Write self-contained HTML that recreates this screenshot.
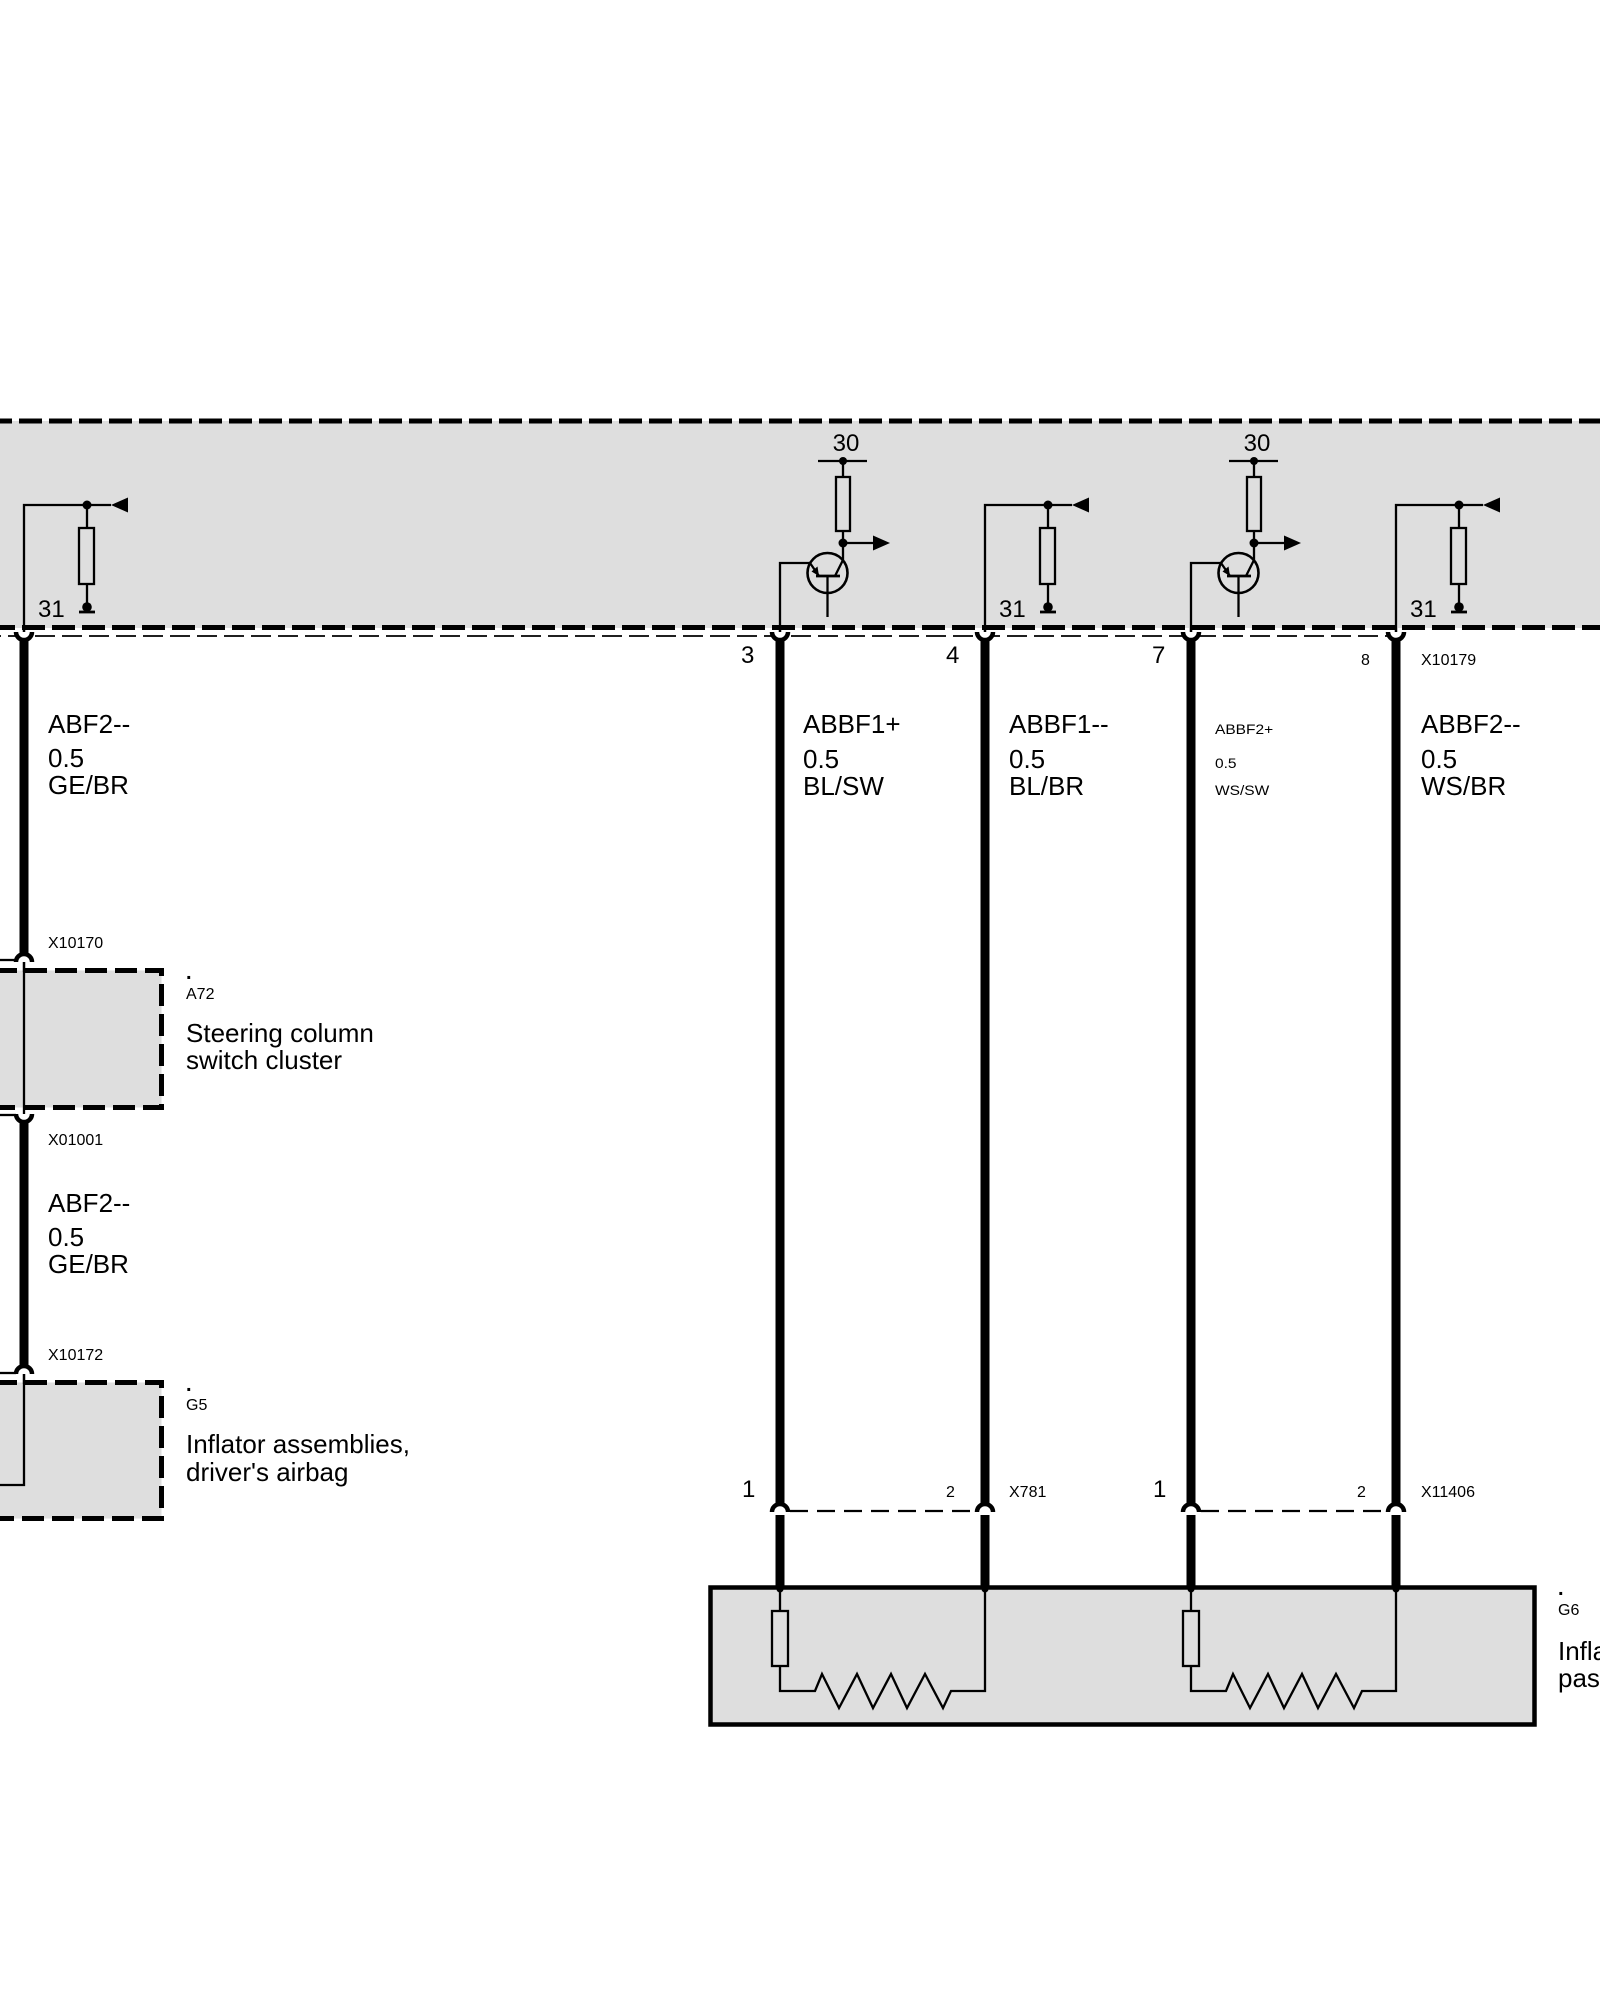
<!DOCTYPE html>
<html><head><meta charset="utf-8"><style>
html,body{margin:0;padding:0;background:#fff;}
svg{display:block;}
text{font-family:"Liberation Sans",Arial,sans-serif;fill:#000;}
.L{font-size:26px;}
.M{font-size:24px;}
.S{font-size:16px;}
.D{font-size:20px;font-weight:bold;}
</style></head><body>
<svg width="1600" height="2000" viewBox="0 0 1600 2000" xmlns="http://www.w3.org/2000/svg">
<rect width="1600" height="2000" fill="#fff"/>

<!-- Top gray control unit -->
<rect x="0" y="421" width="1600" height="207" fill="#dedede"/>
<line x1="0" y1="421" x2="1600" y2="421" stroke="#000" stroke-width="5" stroke-dasharray="23 7" stroke-dashoffset="11"/>
<line x1="0" y1="627.5" x2="1600" y2="627.5" stroke="#000" stroke-width="5" stroke-dasharray="23 7" stroke-dashoffset="8"/>
<line x1="0" y1="636" x2="1405" y2="636" stroke="#000" stroke-width="1.8" stroke-dasharray="20 7" stroke-dashoffset="-8"/>

<!-- A72 box -->
<rect x="0" y="970.5" width="161.5" height="137" fill="#dedede"/>
<path d="M-10 970.5 H161.5 V1107.5 H-10" fill="none" stroke="#000" stroke-width="5" stroke-dasharray="22 8" stroke-dashoffset="-5"/>
<!-- G5 box -->
<rect x="0" y="1382.5" width="161.5" height="136" fill="#dedede"/>
<path d="M-10 1382.5 H161.5 V1518.5 H-10" fill="none" stroke="#000" stroke-width="5" stroke-dasharray="22 8" stroke-dashoffset="-5"/>

<!-- G6 box -->
<rect x="710.5" y="1587.5" width="824" height="137" fill="#dedede" stroke="#000" stroke-width="4.5"/>

<g stroke="#000" fill="none" stroke-width="2.3">
  <!-- pull-down blocks: wires 0 (24), 4 (985), 8 (1396) -->
  <g>
    <polyline points="24,632 24,505 111,505"/>
    <line x1="87" y1="505" x2="87" y2="528"/>
    <rect x="79" y="528" width="15" height="56"/>
    <line x1="87" y1="584" x2="87" y2="607"/>
    <line x1="79" y1="612" x2="95" y2="612" stroke-width="2.8"/>
  </g>
  <g transform="translate(961 0)">
    <polyline points="24,632 24,505 111,505"/>
    <line x1="87" y1="505" x2="87" y2="528"/>
    <rect x="79" y="528" width="15" height="56"/>
    <line x1="87" y1="584" x2="87" y2="607"/>
    <line x1="79" y1="612" x2="95" y2="612" stroke-width="2.8"/>
  </g>
  <g transform="translate(1372 0)">
    <polyline points="24,632 24,505 111,505"/>
    <line x1="87" y1="505" x2="87" y2="528"/>
    <rect x="79" y="528" width="15" height="56"/>
    <line x1="87" y1="584" x2="87" y2="607"/>
    <line x1="79" y1="612" x2="95" y2="612" stroke-width="2.8"/>
  </g>

  <!-- transistor blocks: wires 3 (780), 7 (1191) -->
  <g>
    <line x1="818" y1="461" x2="867" y2="461"/>
    <line x1="843" y1="461" x2="843" y2="477"/>
    <rect x="836" y="477" width="14" height="54"/>
    <line x1="843" y1="531" x2="843" y2="543"/>
    <line x1="843" y1="543" x2="875" y2="543"/>
    <polyline points="843,543 843,560 835,576"/>
    <circle cx="827.5" cy="573" r="20" stroke-width="2.6"/>
    <line x1="816" y1="576" x2="840" y2="576" stroke-width="2.8"/>
    <line x1="827.5" y1="576" x2="827.5" y2="617"/>
    <polyline points="819,576 810,563 780,563 780,632"/>
  </g>
  <g transform="translate(411 0)">
    <line x1="818" y1="461" x2="867" y2="461"/>
    <line x1="843" y1="461" x2="843" y2="477"/>
    <rect x="836" y="477" width="14" height="54"/>
    <line x1="843" y1="531" x2="843" y2="543"/>
    <line x1="843" y1="543" x2="875" y2="543"/>
    <polyline points="843,543 843,560 835,576"/>
    <circle cx="827.5" cy="573" r="20" stroke-width="2.6"/>
    <line x1="816" y1="576" x2="840" y2="576" stroke-width="2.8"/>
    <line x1="827.5" y1="576" x2="827.5" y2="617"/>
    <polyline points="819,576 810,563 780,563 780,632"/>
  </g>

  <!-- left wire thin segments -->
  <line x1="24" y1="962" x2="24" y2="1114"/>
  <line x1="0" y1="960" x2="16" y2="960"/>
  <line x1="0" y1="1115" x2="16" y2="1115"/>
  <polyline points="24,1373 24,1485 0,1485"/>
  <line x1="0" y1="1373" x2="16" y2="1373"/>

  <!-- G6 internals -->
  <g>
    <line x1="780" y1="1590" x2="780" y2="1611"/>
    <rect x="772" y="1611" width="16" height="55"/>
    <polyline points="780,1666 780,1691 815,1691 822,1674 839,1708 857,1674 873,1708 891,1674 907,1708 925,1674 943,1708 951,1691 985,1691 985,1590"/>
  </g>
  <g transform="translate(411 0)">
    <line x1="780" y1="1590" x2="780" y2="1611"/>
    <rect x="772" y="1611" width="16" height="55"/>
    <polyline points="780,1666 780,1691 815,1691 822,1674 839,1708 857,1674 873,1708 891,1674 907,1708 925,1674 943,1708 951,1691 985,1691 985,1590"/>
  </g>

  <!-- bottom dashed connector lines -->
  <line x1="790" y1="1511" x2="975" y2="1511" stroke-dasharray="18 9"/>
  <line x1="1201" y1="1511" x2="1386" y2="1511" stroke-dasharray="18 9"/>
</g>

<!-- filled dots and arrows -->
<g fill="#000">
  <circle cx="87" cy="505" r="4.5"/><circle cx="87" cy="607" r="4.8"/>
  <polygon points="111,505 128,497.5 128,512.5"/>
  <circle cx="1048" cy="505" r="4.5"/><circle cx="1048" cy="607" r="4.8"/>
  <polygon points="1072,505 1089,497.5 1089,512.5"/>
  <circle cx="1459" cy="505" r="4.5"/><circle cx="1459" cy="607" r="4.8"/>
  <polygon points="1483,505 1500,497.5 1500,512.5"/>

  <circle cx="843" cy="461" r="4"/><circle cx="843" cy="543" r="4.5"/>
  <polygon points="873,535.5 890,543 873,550.5"/>
  <polygon points="819,576 811.5,571.5 817.5,566.5"/>
  <circle cx="1254" cy="461" r="4"/><circle cx="1254" cy="543" r="4.5"/>
  <polygon points="1284,535.5 1301,543 1284,550.5"/>
  <polygon points="1230,576 1222.5,571.5 1228.5,566.5"/>

  <circle cx="780" cy="1589" r="3.5"/><circle cx="985" cy="1589" r="3.5"/>
  <circle cx="1191" cy="1589" r="3.5"/><circle cx="1396" cy="1589" r="3.5"/>
</g>

<!-- thick wires -->
<g stroke="#000" stroke-width="9">
  <line x1="24" y1="640" x2="24" y2="956"/>
  <line x1="24" y1="1121" x2="24" y2="1367"/>
  <line x1="780" y1="640" x2="780" y2="1505"/>
  <line x1="780" y1="1515" x2="780" y2="1589"/>
  <line x1="985" y1="640" x2="985" y2="1505"/>
  <line x1="985" y1="1515" x2="985" y2="1589"/>
  <line x1="1191" y1="640" x2="1191" y2="1505"/>
  <line x1="1191" y1="1515" x2="1191" y2="1589"/>
  <line x1="1396" y1="640" x2="1396" y2="1505"/>
  <line x1="1396" y1="1515" x2="1396" y2="1589"/>
</g>

<!-- connector cups -->
<g stroke="#000" stroke-width="4.5" fill="#fff">
  <path d="M16 632 A8 8 0 0 0 32 632"/>
  <path d="M772 632 A8 8 0 0 0 788 632"/>
  <path d="M977 632 A8 8 0 0 0 993 632"/>
  <path d="M1183 632 A8 8 0 0 0 1199 632"/>
  <path d="M1388 632 A8 8 0 0 0 1404 632"/>
  <path d="M16 962 A8 8 0 0 1 32 962"/>
  <path d="M16 1114 A8 8 0 0 0 32 1114"/>
  <path d="M16 1374 A8 8 0 0 1 32 1374"/>
  <path d="M772 1512 A8 8 0 0 1 788 1512"/>
  <path d="M977 1512 A8 8 0 0 1 993 1512"/>
  <path d="M1183 1512 A8 8 0 0 1 1199 1512"/>
  <path d="M1388 1512 A8 8 0 0 1 1404 1512"/>
</g>
<g stroke="#000" stroke-width="2.3">
  <line x1="24" y1="628" x2="24" y2="632"/>
  <line x1="780" y1="628" x2="780" y2="632"/>
  <line x1="985" y1="628" x2="985" y2="632"/>
  <line x1="1191" y1="628" x2="1191" y2="632"/>
  <line x1="1396" y1="628" x2="1396" y2="632"/>
  <line x1="24" y1="962" x2="24" y2="972"/>
  <line x1="24" y1="1374" x2="24" y2="1384"/>
</g>

<!-- labels in top box -->
<text class="M" x="38" y="617">31</text>
<text class="M" x="999" y="617">31</text>
<text class="M" x="1410" y="617">31</text>
<text class="M" x="846" y="451" text-anchor="middle">30</text>
<text class="M" x="1257" y="451" text-anchor="middle">30</text>

<!-- pin numbers -->
<text class="M" x="741" y="663">3</text>
<text class="M" x="946" y="663">4</text>
<text class="M" x="1152" y="663">7</text>
<text class="S" x="1361" y="665">8</text>
<text class="S" x="1421" y="665">X10179</text>

<!-- wire labels -->
<text class="L" x="48" y="733">ABF2--</text>
<text class="L" x="48" y="767">0.5</text>
<text class="L" x="48" y="794">GE/BR</text>
<text class="S" x="48" y="948">X10170</text>
<text class="S" x="48" y="1145">X01001</text>
<text class="L" x="48" y="1212">ABF2--</text>
<text class="L" x="48" y="1246">0.5</text>
<text class="L" x="48" y="1273">GE/BR</text>
<text class="S" x="48" y="1360">X10172</text>

<text class="L" x="803" y="733">ABBF1+</text>
<text class="L" x="803" y="768">0.5</text>
<text class="L" x="803" y="795">BL/SW</text>
<text class="L" x="1009" y="733">ABBF1--</text>
<text class="L" x="1009" y="768">0.5</text>
<text class="L" x="1009" y="795">BL/BR</text>
<text transform="translate(1215 734) scale(1.15 1)" style="font-size:13.5px">ABBF2+</text>
<text transform="translate(1215 768) scale(1.15 1)" style="font-size:13.5px">0.5</text>
<text transform="translate(1215 795) scale(1.15 1)" style="font-size:13.5px">WS/SW</text>
<text class="L" x="1421" y="733">ABBF2--</text>
<text class="L" x="1421" y="768">0.5</text>
<text class="L" x="1421" y="795">WS/BR</text>

<!-- component labels -->
<text class="D" x="186" y="979">.</text>
<text class="S" x="186" y="999">A72</text>
<text class="L" x="186" y="1042">Steering column</text>
<text class="L" x="186" y="1069">switch cluster</text>

<text class="D" x="186" y="1391">.</text>
<text class="S" x="186" y="1410">G5</text>
<text class="L" x="186" y="1453">Inflator assemblies,</text>
<text class="L" x="186" y="1481">driver's airbag</text>

<text class="D" x="1558" y="1595">.</text>
<text class="S" x="1558" y="1615">G6</text>
<text class="L" x="1558" y="1660">Inflator assemblies,</text>
<text class="L" x="1558" y="1687">passenger's airbag</text>

<!-- bottom connector labels -->
<text class="M" x="742" y="1497">1</text>
<text class="S" x="946" y="1497">2</text>
<text class="S" x="1009" y="1497">X781</text>
<text class="M" x="1153" y="1497">1</text>
<text class="S" x="1357" y="1497">2</text>
<text class="S" x="1421" y="1497">X11406</text>
</svg>
</body></html>
